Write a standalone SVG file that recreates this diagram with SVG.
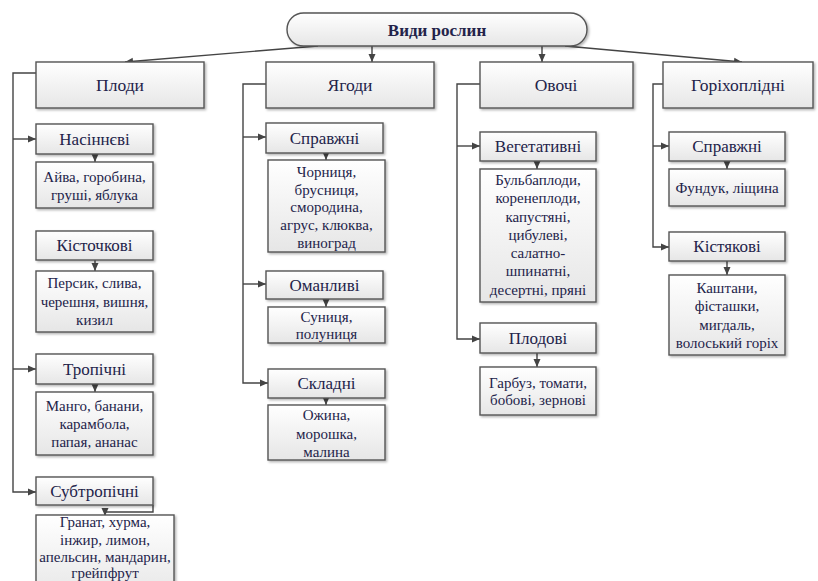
<svg xmlns="http://www.w3.org/2000/svg" width="818" height="581" viewBox="0 0 818 581">
<defs>
<linearGradient id="g" x1="0" y1="0" x2="0" y2="1">
<stop offset="0" stop-color="#ffffff"/>
<stop offset="1" stop-color="#e6e6e6"/>
</linearGradient>
<filter id="sh" x="-10%" y="-10%" width="130%" height="140%">
<feDropShadow dx="1.5" dy="1.5" stdDeviation="1" flood-color="#000" flood-opacity="0.3"/>
</filter>
<marker id="ar" markerUnits="userSpaceOnUse" markerWidth="8" markerHeight="8" refX="8" refY="4" orient="auto">
<path d="M0,0.5 L8,4 L0,7.5 z" fill="#444"/>
</marker>
</defs>
<style>
rect{fill:url(#g);stroke:#555;stroke-width:1.4;filter:url(#sh)}
text{font-family:'Liberation Serif','DejaVu Serif',serif;fill:#23234a;text-anchor:middle;dominant-baseline:central}
.h1{font-size:17.5px}
.h2{font-size:17px}
.d{font-size:15px}
.t{font-size:17px;font-weight:bold}
#conn path{fill:none;stroke:#444;stroke-width:1.4}
.a{marker-end:url(#ar)}
</style>
<rect x="0" y="0" width="818" height="581" style="fill:#fff;stroke:none;filter:none"/>
<g id="conn">
<path class="a" d="M318,46 L125,62"/>
<path class="a" d="M372,46 V62"/>
<path class="a" d="M542,46 V62"/>
<path class="a" d="M565,46 L742,62"/>
<path class="a" d="M36,73 H13 V492 H36"/>
<path class="a" d="M13,139 H36"/>
<path class="a" d="M13,369 H36"/>
<path class="a" d="M95,154 V162"/>
<path class="a" d="M95,260 V271"/>
<path class="a" d="M95,384 V392"/>
<path class="a" d="M153,505 V512 H105 V516"/>
<path class="a" d="M266,84 H243 V383 H268"/>
<path class="a" d="M243,137 H266"/>
<path class="a" d="M243,284 H266"/>
<path class="a" d="M326,153 V160"/>
<path class="a" d="M326,299 V307"/>
<path class="a" d="M326,398 V405"/>
<path class="a" d="M480,84 H457 V339 H480"/>
<path class="a" d="M457,146 H480"/>
<path class="a" d="M537,161 V169"/>
<path class="a" d="M537,353 V367"/>
<path class="a" d="M663,84 H653 V247 H669"/>
<path class="a" d="M653,146 H669"/>
<path class="a" d="M727,161 V169"/>
<path class="a" d="M727,261 V275"/>
</g>
<g id="root"><rect x="287" y="13" width="300" height="33" rx="16.5"/><text class="t" x="437" y="30">Види рослин</text></g>
<g id="plody"><rect x="36" y="62" width="168" height="46"/><text class="h1" x="120" y="85">Плоди</text></g>
<g id="yahody"><rect x="266" y="62" width="168" height="46"/><text class="h1" x="350" y="85">Ягоди</text></g>
<g id="ovochi"><rect x="480" y="62" width="153" height="46"/><text class="h1" x="556" y="85">Овочі</text></g>
<g id="horikh"><rect x="663" y="62" width="150" height="46"/><text class="h1" x="738" y="85">Горіхоплідні</text></g>

<g id="nasinnevi"><rect x="36" y="124" width="117" height="30"/><text class="h2" x="94.5" y="139">Насіннєві</text></g>
<g id="nasinnevi-d"><rect x="36" y="162" width="117" height="46"/><text class="d" x="94.5" y="177">Айва, горобина,</text><text class="d" x="94.5" y="195">груші, яблука</text></g>
<g id="kistochkovi"><rect x="36" y="231" width="117" height="29"/><text class="h2" x="94.5" y="245.5">Кісточкові</text></g>
<g id="kistochkovi-d"><rect x="36" y="271" width="117" height="61"/><text class="d" x="94.5" y="283">Персик, слива,</text><text class="d" x="94.5" y="302">черешня, вишня,</text><text class="d" x="94.5" y="320">кизил</text></g>
<g id="tropichni"><rect x="36" y="354" width="117" height="30"/><text class="h2" x="94.5" y="369">Тропічні</text></g>
<g id="tropichni-d"><rect x="36" y="392" width="117" height="63"/><text class="d" x="94.5" y="406">Манго, банани,</text><text class="d" x="94.5" y="424">карамбола,</text><text class="d" x="94.5" y="442">папая, ананас</text></g>
<g id="subtropichni"><rect x="36" y="477" width="117" height="28"/><text class="h2" x="94.5" y="491">Субтропічні</text></g>
<g id="subtropichni-d"><rect x="36" y="515" width="138" height="85"/><text class="d" x="105" y="522">Гранат, хурма,</text><text class="d" x="105" y="540">інжир, лимон,</text><text class="d" x="105" y="557">апельсин, мандарин,</text><text class="d" x="105" y="573">грейпфрут</text></g>

<g id="spravzhni1"><rect x="266" y="123" width="117" height="30"/><text class="h2" x="324.5" y="138">Справжні</text></g>
<g id="spravzhni1-d"><rect x="268" y="160" width="117" height="92"/><text class="d" x="326.5" y="172">Чорниця,</text><text class="d" x="326.5" y="190">брусниця,</text><text class="d" x="326.5" y="207">смородина,</text><text class="d" x="326.5" y="225">агрус, клюква,</text><text class="d" x="326.5" y="243">виноград</text></g>
<g id="omanlyvi"><rect x="266" y="271" width="117" height="28"/><text class="h2" x="324.5" y="285">Оманливі</text></g>
<g id="omanlyvi-d"><rect x="268" y="307" width="117" height="36"/><text class="d" x="326.5" y="317">Суниця,</text><text class="d" x="326.5" y="334">полуниця</text></g>
<g id="skladni"><rect x="268" y="369" width="117" height="29"/><text class="h2" x="326.5" y="383.5">Складні</text></g>
<g id="skladni-d"><rect x="268" y="405" width="117" height="55"/><text class="d" x="326.5" y="415">Ожина,</text><text class="d" x="326.5" y="434">морошка,</text><text class="d" x="326.5" y="452">малина</text></g>

<g id="vehetatyvni"><rect x="480" y="132" width="116" height="29"/><text class="h2" x="538" y="146.5">Вегетативні</text></g>
<g id="vehetatyvni-d"><rect x="480" y="169" width="116" height="133"/><text class="d" x="538" y="180">Бульбаплоди,</text><text class="d" x="538" y="198">коренеплоди,</text><text class="d" x="538" y="217">капустяні,</text><text class="d" x="538" y="235">цибулеві,</text><text class="d" x="538" y="253">салатно-</text><text class="d" x="538" y="271">шпинатні,</text><text class="d" x="538" y="290">десертні, пряні</text></g>
<g id="plodovi"><rect x="480" y="323" width="116" height="30"/><text class="h2" x="538" y="338">Плодові</text></g>
<g id="plodovi-d"><rect x="480" y="367" width="116" height="48"/><text class="d" x="538" y="383">Гарбуз, томати,</text><text class="d" x="538" y="400">бобові, зернові</text></g>

<g id="spravzhni2"><rect x="669" y="132" width="116" height="29"/><text class="h2" x="727" y="146.5">Справжні</text></g>
<g id="spravzhni2-d"><rect x="669" y="169" width="116" height="37"/><text class="d" x="727" y="188">Фундук, ліщина</text></g>
<g id="kistiakovi"><rect x="669" y="232" width="116" height="29"/><text class="h2" x="727" y="246.5">Кістякові</text></g>
<g id="kistiakovi-d"><rect x="669" y="275" width="116" height="80"/><text class="d" x="727" y="288">Каштани,</text><text class="d" x="727" y="306">фісташки,</text><text class="d" x="727" y="325">мигдаль,</text><text class="d" x="727" y="343">волоський горіх</text></g>
</svg>
